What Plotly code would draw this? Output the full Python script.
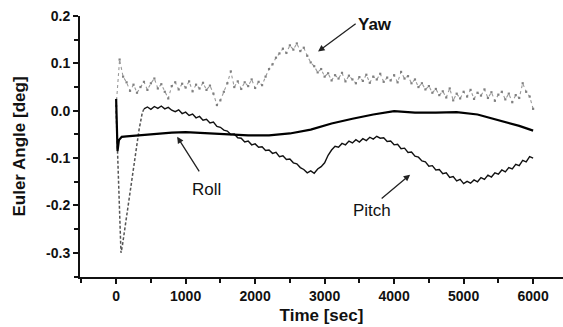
import plotly.graph_objects as go

# ---------------- data ----------------
# Yaw: sampled every 50 s from 0 to 6000 s
yaw_time = list(range(0, 6001, 50))
yaw_deg = [
    0.010, 0.108, 0.072, 0.060, 0.042, 0.055, 0.038, 0.050, 0.061, 0.044,   # 0-450
    0.058, 0.068, 0.047, 0.056, 0.040, 0.026, 0.052, 0.060, 0.045, 0.057,   # 500-950
    0.049, 0.062, 0.041, 0.055, 0.047, 0.059, 0.044, 0.053, 0.036, 0.012,   # 1000-1450
    0.022, 0.040, 0.058, 0.083, 0.050, 0.062, 0.046, 0.060, 0.052, 0.066,   # 1500-1950
    0.048, 0.061, 0.054, 0.072, 0.088, 0.098, 0.112, 0.121, 0.131, 0.122,   # 2000-2450
    0.138, 0.129, 0.142, 0.126, 0.133, 0.116, 0.102, 0.094, 0.081, 0.088,   # 2500-2950
    0.072, 0.079, 0.064, 0.075, 0.068, 0.080, 0.062, 0.074, 0.066, 0.058,   # 3000-3450
    0.071, 0.063, 0.076, 0.059, 0.072, 0.066, 0.078, 0.061, 0.070, 0.064,   # 3500-3950
    0.075, 0.060, 0.082, 0.068, 0.073, 0.058, 0.066, 0.050, 0.058, 0.045,   # 4000-4450
    0.052, 0.038, 0.046, 0.033, 0.041, 0.028, 0.047, 0.022, 0.036, 0.026,   # 4500-4950
    0.040, 0.030, 0.044, 0.025, 0.038, 0.032, 0.045, 0.027, 0.039, 0.021,   # 5000-5450
    0.034, 0.040, 0.024, 0.036, 0.018, 0.033, 0.027, 0.058, 0.040, 0.030,   # 5500-5950
    0.004,                                                                  # 6000
]

# Pitch: fast initial transient
pitch_init_time = [0, 15, 30, 45, 60, 70, 90, 130, 180, 230, 280, 330, 375, 400]
pitch_init_deg = [0.0, -0.06, -0.14, -0.21, -0.27, -0.30, -0.285, -0.245,
                  -0.19, -0.14, -0.085, -0.04, -0.005, 0.004]

# Pitch: sampled every 50 s from 400 to 6000 s
pitch_time = list(range(400, 6001, 50))
pitch_deg = [
    0.004, 0.008, 0.003, 0.009, 0.005, 0.010, 0.004, 0.007, 0.001, -0.002,          # 400-850
    0.002, -0.006, -0.003, -0.010, -0.007, -0.015, -0.012, -0.020, -0.018, -0.026,  # 900-1350
    -0.024, -0.033, -0.035, -0.041, -0.043, -0.050, -0.049, -0.057, -0.058, -0.066, # 1400-1850
    -0.064, -0.072, -0.070, -0.077, -0.076, -0.084, -0.083, -0.090, -0.088, -0.097, # 1900-2350
    -0.095, -0.103, -0.102, -0.110, -0.112, -0.120, -0.124, -0.131, -0.127, -0.132, # 2400-2850
    -0.123, -0.118, -0.110, -0.094, -0.083, -0.075, -0.077, -0.069, -0.072, -0.064, # 2900-3350
    -0.068, -0.061, -0.066, -0.059, -0.063, -0.056, -0.060, -0.054, -0.058, -0.057, # 3400-3850
    -0.065, -0.064, -0.072, -0.071, -0.080, -0.079, -0.088, -0.087, -0.096, -0.098, # 3900-4350
    -0.106, -0.108, -0.117, -0.116, -0.125, -0.124, -0.133, -0.131, -0.141, -0.139, # 4400-4850
    -0.148, -0.145, -0.154, -0.149, -0.153, -0.146, -0.150, -0.141, -0.145, -0.136, # 4900-5350
    -0.140, -0.131, -0.134, -0.125, -0.129, -0.120, -0.123, -0.113, -0.116, -0.105, # 5400-5850
    -0.108, -0.097, -0.100,                                                         # 5900-6000
]

# Roll: smooth curve
roll_time = [0, 5, 20, 40, 80, 150, 300, 500, 800, 1000, 1300, 1600, 1900, 2200,
             2500, 2800, 3100, 3400, 3700, 4000, 4300, 4600, 4900, 5200, 5500, 5800, 6000]
roll_deg = [0.025, -0.02, -0.085, -0.062, -0.055, -0.054, -0.052, -0.049, -0.046,
            -0.045, -0.047, -0.050, -0.052, -0.052, -0.048, -0.040, -0.027, -0.017,
            -0.008, -0.001, -0.004, -0.004, -0.003, -0.008, -0.020, -0.032, -0.042]

x_tick_vals = [0, 1000, 2000, 3000, 4000, 5000, 6000]
x_tick_text = ["0", "1000", "2000", "3000", "4000", "5000", "6000"]
y_tick_vals = [0.2, 0.1, 0.0, -0.1, -0.2, -0.3]
y_tick_text = ["0.2", "0.1", "0.0", "-0.1", "-0.2", "-0.3"]

# ---------------- figure ----------------
FONT = "Liberation Sans, Arial, sans-serif"
INK = "#111111"
fig = go.Figure()

fig.add_trace(go.Scatter(x=yaw_time, y=yaw_deg, mode="lines+markers",
                         line=dict(color="#9a9a9a", width=1.1, dash="dot"),
                         marker=dict(color="#808080", size=2.2, symbol="square"),
                         showlegend=False, name="Yaw"))
fig.add_trace(go.Scatter(x=pitch_init_time, y=pitch_init_deg, mode="lines",
                         line=dict(color="#555555", width=1.5, dash="3px,2px"),
                         showlegend=False, name="Pitch (transient)"))
fig.add_trace(go.Scatter(x=pitch_time, y=pitch_deg, mode="lines",
                         line=dict(color=INK, width=1.4),
                         showlegend=False, name="Pitch"))
fig.add_trace(go.Scatter(x=roll_time, y=roll_deg, mode="lines",
                         line=dict(color="#000000", width=2.2),
                         showlegend=False, name="Roll"))

arrow = dict(showarrow=True, arrowhead=2, arrowsize=1, arrowwidth=1.3,
             arrowcolor="#222222", axref="x", ayref="y", text="")
fig.add_annotation(x=2906, y=0.125, ax=3468, ay=0.186, **arrow)
fig.add_annotation(x=878, y=-0.055, ax=1209, ay=-0.131, **arrow)
fig.add_annotation(x=4230, y=-0.135, ax=3799, ay=-0.188, **arrow)

fig.add_annotation(x=3727, xref="x", y=1.011, yref="paper", text="<b>Yaw</b>",
                   showarrow=False, font=dict(family=FONT, size=17, color=INK))
fig.add_annotation(x=1295, y=-0.167, text="Roll", showarrow=False,
                   font=dict(family=FONT, size=17, color=INK))
fig.add_annotation(x=3683, y=-0.211, text="Pitch", showarrow=False,
                   font=dict(family=FONT, size=17, color=INK))

fig.update_layout(
    width=563, height=327,
    margin=dict(l=80, r=0, t=16, b=50, autoexpand=False),
    paper_bgcolor="white", plot_bgcolor="white",
    font=dict(family=FONT, color=INK),
    xaxis=dict(range=[-520, 6430], showgrid=False, zeroline=False,
               showline=True, linecolor=INK, linewidth=2,
               ticks="outside", ticklen=5, tickwidth=1.5, tickcolor=INK,
               tickvals=x_tick_vals, ticktext=x_tick_text,
               tickfont=dict(family=FONT, size=14, weight="bold", color=INK),
               minor=dict(dtick=500, tick0=0, ticks="outside", ticklen=4,
                          tickwidth=1.5, tickcolor=INK, showgrid=False),
               title=dict(text="Time [sec]", standoff=6,
                          font=dict(family=FONT, size=17, weight="bold", color=INK))),
    yaxis=dict(range=[-0.351, 0.2], showgrid=False, zeroline=False,
               showline=True, linecolor=INK, linewidth=2,
               ticks="outside", ticklen=5, tickwidth=1.5, tickcolor=INK,
               tickvals=y_tick_vals, ticktext=y_tick_text,
               tickfont=dict(family=FONT, size=14, weight="bold", color=INK),
               minor=dict(dtick=0.05, tick0=0, ticks="outside", ticklen=4,
                          tickwidth=1.5, tickcolor=INK, showgrid=False),
               title=dict(text="Euler Angle [deg]", standoff=16,
                          font=dict(family=FONT, size=17, weight="bold", color=INK))),
)

fig.write_html("out.html")
